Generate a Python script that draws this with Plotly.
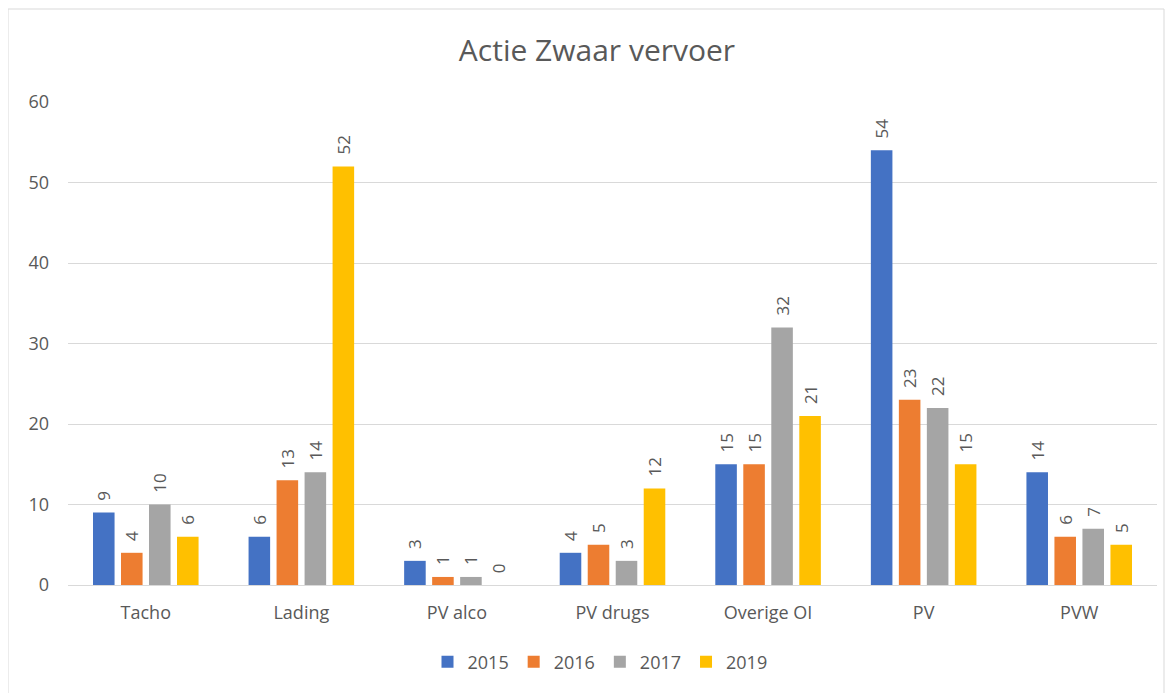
import plotly.graph_objects as go

categories = ["Tacho", "Lading", "PV alco", "PV drugs", "Overige OI", "PV", "PVW"]
years = ["2015", "2016", "2017", "2019"]
v2015 = [9, 6, 3, 4, 15, 54, 14]
v2016 = [4, 13, 1, 5, 15, 23, 6]
v2017 = [10, 14, 1, 3, 32, 22, 7]
v2019 = [6, 52, 0, 12, 21, 15, 5]
colors = ["#4472C4", "#ED7D31", "#A5A5A5", "#FFC000"]

OFF = 8  # page body margin
W, H = 1165, 685
L, R, T, B = 60, 16, 94, 108
pw, ph = W - L - R, H - T - B

def px_x(x):
    return (x - OFF - L) / pw

def px_y(y):
    return (H - B - (y - OFF)) / ph

FONT = "Open Sans, Liberation Sans, sans-serif"
GRAY = "#595959"

fig = go.Figure()
for name, vals, c in zip(years, [v2015, v2016, v2017, v2019], colors):
    fig.add_trace(go.Bar(
        x=categories, y=vals, name=name, marker_color=c,
        marker_line_width=0,
        text=["\u00a0\u00a0" + str(v) for v in vals], textposition="outside",
        textangle=-90, cliponaxis=False, constraintext="none",
        textfont=dict(family=FONT, size=17, color=GRAY),
    ))

fig.update_layout(
    width=W, height=H,
    margin=dict(l=L, r=R, t=T, b=B),
    paper_bgcolor="white", plot_bgcolor="white",
    barmode="group", bargap=0.28, bargroupgap=0.23,
    title=dict(text="Actie Zwaar vervoer", xref="container", x=(597 - OFF) / W, xanchor="center",
               yref="container", y=1 - (50 - OFF) / H, yanchor="middle",
               font=dict(family=FONT, size=30, color=GRAY)),
    font=dict(family=FONT, size=17, color=GRAY),
    legend=dict(orientation="h", x=px_x(600), xanchor="center", y=px_y(662), yanchor="middle",
                font=dict(size=18, color=GRAY), itemwidth=30, traceorder="normal"),
    showlegend=True,
)
fig.update_yaxes(range=[0, 60], dtick=10, showgrid=True, gridcolor="#D9D9D9", gridwidth=1,
                 zeroline=True, zerolinecolor="#D9D9D9", zerolinewidth=1,
                 showline=False, ticks="", tickfont=dict(family=FONT, size=18, color=GRAY),
                 ticklabelstandoff=18)
fig.update_xaxes(showline=False, ticks="", tickfont=dict(family=FONT, size=18, color=GRAY),
                 ticklabelstandoff=15)

fig.add_shape(type="rect", xref="paper", yref="paper",
              x0=px_x(8), x1=px_x(1164), y0=px_y(700), y1=px_y(9),
              line=dict(color="#D9D9D9", width=1), fillcolor="rgba(0,0,0,0)", layer="below")

fig.write_html("out.html")
